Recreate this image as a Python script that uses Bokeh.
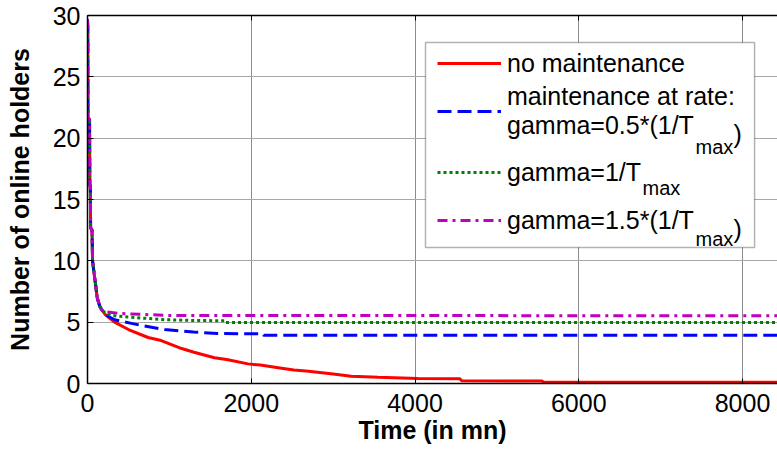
from bokeh.plotting import figure
from bokeh.models import (Range1d, FixedTicker, LinearAxis, Legend, LegendItem, BoxAnnotation,
                          Label, CustomJSTickFormatter)
from bokeh.embed import file_html
from bokeh.resources import INLINE

# ---------------- data ----------------
t_common = [0, 3, 5, 25, 28, 35, 38, 55, 62, 80, 100, 118, 150, 175]
n_common = [29.7, 29.0, 21.7, 21.5, 16.3, 16.0, 12.7, 12.5, 10.0, 9.0, 8.0, 7.0, 6.3, 6.0]

t_none = [220, 330, 500, 740, 900, 1150, 1300, 1550, 1700, 1960, 2110, 2370, 2520,
          2700, 3000, 3220, 3550, 4040, 4550, 4570, 5550, 5570, 8427]
n_none = [5.6, 5.0, 4.4, 3.75, 3.5, 2.85, 2.55, 2.1, 1.95, 1.6, 1.5, 1.25, 1.1,
          1.0, 0.78, 0.6, 0.5, 0.4, 0.38, 0.22, 0.2, 0.1, 0.1]

t_half = [220, 330, 537, 684, 940, 1294, 1587, 2140, 2150, 8427]
n_half = [5.6, 5.2, 4.9, 4.7, 4.4, 4.2, 4.07, 4.05, 3.93, 3.93]

t_one = [220, 290, 537, 940, 1350, 1670, 1680, 8427]
n_one = [5.75, 5.55, 5.4, 5.2, 5.13, 5.12, 4.97, 4.97]

t_onehalf = [210, 415, 990, 8427]
n_onehalf = [5.85, 5.7, 5.55, 5.52]

series_labels = ["no maintenance", "maintenance at rate:\ngamma=0.5*(1/T",
                 "gamma=1/T", "gamma=1.5*(1/T"]
x_ticks = [0, 2000, 4000, 6000, 8000]
y_ticks = [0, 5, 10, 15, 20, 25, 30]
x_max = 8427
y_max = 30

FONT = "Liberation Sans"

p = figure(width=777, height=450, output_backend="svg", toolbar_location=None,
           x_range=Range1d(0, x_max), y_range=Range1d(0, y_max),
           min_border_left=87, min_border_top=15, min_border_right=0, min_border_bottom=67)
p.outline_line_color = None
p.background_fill_color = "white"
p.border_fill_color = "white"

for ax in (p.xaxis[0], p.yaxis[0]):
    ax.major_label_text_font = FONT
    ax.major_label_text_font_size = "25px"
    ax.major_label_text_color = "black"
    ax.axis_label_text_font = FONT
    ax.axis_label_text_font_size = "25px"
    ax.axis_label_text_font_style = "bold"
    ax.axis_label_text_color = "black"
    ax.axis_line_color = "black"
    ax.axis_line_width = 1.5
    ax.major_tick_line_color = "black"
    ax.major_tick_out = 0
    ax.minor_tick_in = 0
    ax.minor_tick_out = 0

p.xaxis[0].ticker = FixedTicker(ticks=x_ticks)
p.yaxis[0].ticker = FixedTicker(ticks=y_ticks)
p.xaxis[0].major_tick_in = 5
p.yaxis[0].major_tick_in = 6
p.xaxis[0].axis_label = "Time (in mn)"
p.yaxis[0].axis_label = "Number of online holders"
p.xaxis[0].major_label_standoff = 10
p.xaxis[0].axis_label_standoff = 1
p.yaxis[0].major_label_standoff = 7
p.yaxis[0].axis_label_standoff = 16

# top frame edge with inward ticks (no labels)
top = LinearAxis(ticker=FixedTicker(ticks=x_ticks),
                 formatter=CustomJSTickFormatter(code="return ''"),
                 major_tick_in=5, major_tick_out=0, minor_tick_in=0, minor_tick_out=0,
                 axis_line_color="black", axis_line_width=1.5, major_label_standoff=0,
                 axis_label_standoff=0)
p.add_layout(top, "above")

p.xgrid.ticker = FixedTicker(ticks=x_ticks)
p.ygrid.ticker = FixedTicker(ticks=y_ticks)
p.xgrid.grid_line_color = "#8c8c8c"
p.ygrid.grid_line_color = "#a8a8a8"

r_none = p.line(t_common + t_none, n_common + n_none, line_color="#ff0000", line_width=3)
r_half = p.line(t_common + t_half, n_common + n_half, line_color="#0000ff", line_width=3,
                line_dash="14 6")
r_one = p.line(t_common + t_one, n_common + n_one, line_color="#008000", line_width=3,
               line_dash="3 3")
r_onehalf = p.line(t_common + t_onehalf, n_common + n_onehalf, line_color="#bf00bf",
                   line_width=3, line_dash="10 5 3 5")

# legend frame
box = BoxAnnotation(left=4128, right=8147, top=27.8, bottom=11.09,
                    fill_color="white", fill_alpha=1.0, line_color="black", line_width=1.5)
p.add_layout(box)

def add_leg(renderer, label, loc, gh, lh=1.0):
    leg = Legend(items=[LegendItem(label=label, renderers=[renderer])], location=loc,
                 border_line_color=None, background_fill_alpha=0, padding=0, margin=0,
                 spacing=0, glyph_width=64, glyph_height=gh, label_height=gh,
                 label_standoff=6, label_text_font=FONT, label_text_font_size="25px",
                 label_text_color="black", label_text_line_height=lh)
    p.add_layout(leg, "center")

add_leg(r_none, series_labels[0], (350, 305), 30)
add_leg(r_half, series_labels[1], (350, 241), 62, 0.85)
add_leg(r_one, series_labels[2], (350, 196), 30)
add_leg(r_onehalf, series_labels[3], (350, 148), 30)

def add_txt(x, y, text, size):
    p.add_layout(Label(x=x, y=y, text=text, text_font=FONT, text_font_size=size,
                       text_color="black", text_baseline="alphabetic", text_align="left"))

add_txt(7426, 19.32, "max", "20px")
add_txt(7890, 20.30, ")", "25px")
add_txt(6779, 15.90, "max", "20px")
add_txt(7426, 11.74, "max", "20px")
add_txt(7890, 12.61, ")", "25px")

open("out.html", "w").write(file_html(p, INLINE))
